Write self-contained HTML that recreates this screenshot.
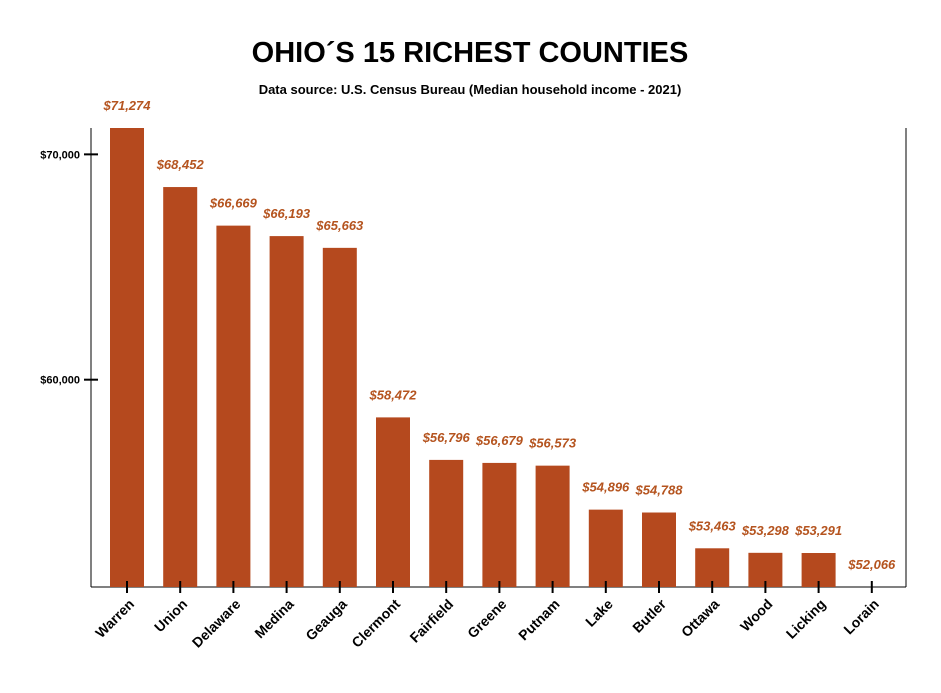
<!DOCTYPE html>
<html><head><meta charset="utf-8"><style>
html,body{margin:0;padding:0;background:#fff;}
svg{display:block;font-family:"Liberation Sans",Arial,sans-serif;}
</style></head><body>
<svg id="chart" width="941" height="693">
<text x="470" y="62" text-anchor="middle" font-size="29" font-weight="bold">OHIO´S 15 RICHEST COUNTIES</text>
<text x="470" y="94" text-anchor="middle" font-size="13" font-weight="bold">Data source: U.S. Census Bureau (Median household income - 2021)</text>
<g id="plot"></g>
</svg>
<script>
const categories=["Warren","Union","Delaware","Medina","Geauga","Clermont","Fairfield","Greene","Putnam","Lake","Butler","Ottawa","Wood","Licking","Lorain"];
const values=[71274,68452,66669,66193,65663,58472,56796,56679,56573,54896,54788,53463,53298,53291,52066];
const yTicks=[60000,70000];
const yTickLabels=["$60,000","$70,000"];
const NS="http://www.w3.org/2000/svg";
const plotG=document.getElementById('plot');
const plotLeft=91,plotRight=906,plotTop=128,plotBottom=587;
const vmin=Math.min(...values),vmax=Math.max(...values);
const kScale=(plotBottom-plotTop)/Math.log(vmax/vmin);
function yPos(v){return plotBottom-kScale*Math.log(v/vmin);}
function xPos(i){return 127+i*53.2;}
function mk(t,a){const e=document.createElementNS(NS,t);for(const n in a)e.setAttribute(n,a[n]);plotG.appendChild(e);return e;}
function fmt(v){return "$"+v.toLocaleString("en-US");}
let el;
el=mk('line',{x1:plotLeft,y1:plotTop,x2:plotLeft,y2:plotBottom,stroke:'#000','stroke-width':1});


el=mk('line',{x1:plotRight,y1:plotTop,x2:plotRight,y2:plotBottom,stroke:'#000','stroke-width':1});


el=mk('line',{x1:plotLeft,y1:plotBottom,x2:plotRight,y2:plotBottom,stroke:'#000','stroke-width':1});


yTicks.forEach((t,i)=>{
  const yy=yPos(t);
  el=mk('line',{x1:84,y1:yy,x2:98,y2:yy,stroke:'#000','stroke-width':2});
  
  
  el=mk('text',{x:80,y:yy+4,'text-anchor':'end','font-size':11,'font-weight':'bold'});
  el.textContent=yTickLabels[i];
  
  
});
categories.forEach((c,i)=>{
  const cx=xPos(i),yy=yPos(values[i]);
  el=mk('rect',{x:cx-17,y:yy,width:34,height:plotBottom-yy,fill:'#b5491e'});
  
  
  el=mk('line',{x1:cx,y1:plotBottom-6,x2:cx,y2:plotBottom+6,stroke:'#000','stroke-width':2});
  
  
  el=mk('text',{x:cx,y:yy-18,'text-anchor':'middle','font-size':13,'font-weight':'bold','font-style':'italic',fill:'#b5541f'});
  el.textContent=fmt(values[i]);
  
  
  el=mk('text',{x:cx+8,y:plotBottom+18,'text-anchor':'end','font-size':14,'font-weight':'bold',transform:`rotate(-45 ${cx+8} ${plotBottom+18})`});
  el.textContent=c;
  
  
});
</script>
</body></html>
